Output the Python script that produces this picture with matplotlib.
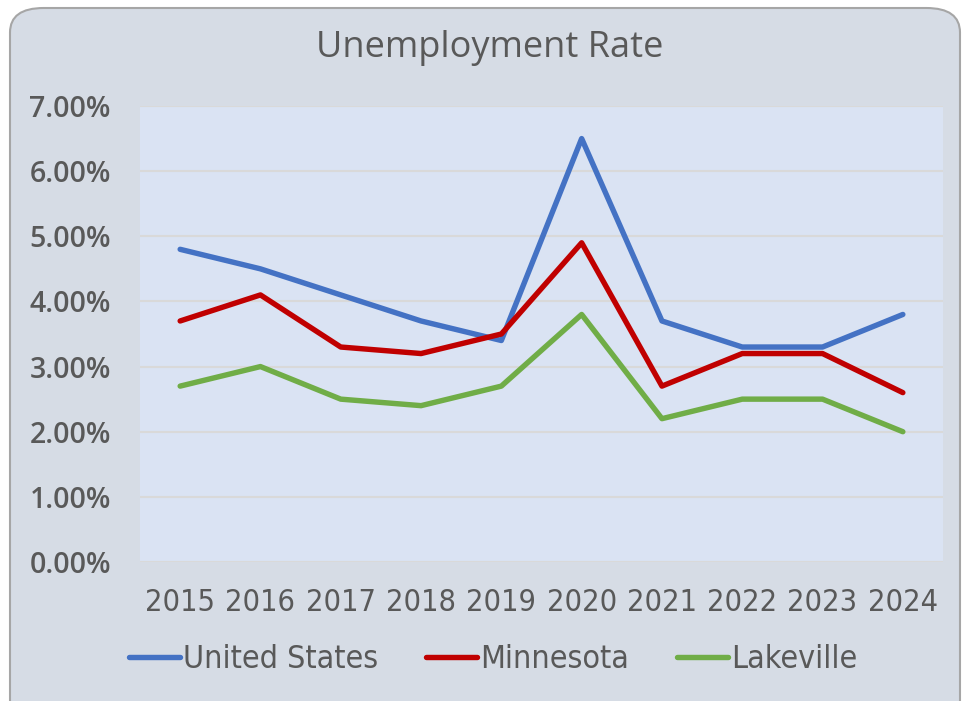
import matplotlib
matplotlib.use("Agg")
import matplotlib.pyplot as plt
from matplotlib.patches import FancyBboxPatch
from matplotlib.ticker import FuncFormatter

# data
years = ["2015", "2016", "2017", "2018", "2019", "2020", "2021", "2022", "2023", "2024"]
us_rate = [4.8, 4.5, 4.1, 3.7, 3.4, 6.5, 3.7, 3.3, 3.3, 3.8]
mn_rate = [3.7, 4.1, 3.3, 3.2, 3.5, 4.9, 2.7, 3.2, 3.2, 2.6]
lakeville_rate = [2.7, 3.0, 2.5, 2.4, 2.7, 3.8, 2.2, 2.5, 2.5, 2.0]

text_col = "#595959"

fig = plt.figure(figsize=(9.63, 7.01), dpi=100)
fig.patch.set_facecolor("white")

# rounded chart frame behind everything
frame = FancyBboxPatch((10 / 963, -0.05), 950 / 963, 1 - 8 / 701 + 0.05,
                       boxstyle="round,pad=0,rounding_size=0.035",
                       transform=fig.transFigure, facecolor="#d6dce5",
                       edgecolor="#a6a6a6", linewidth=1.5, zorder=-10)
fig.patches.append(frame)

ax = fig.add_axes([140 / 963, 1 - 562 / 701, 803 / 963, 456 / 701], zorder=5)
ax.set_facecolor("#dae3f3")

x = range(len(years))
ax.plot(x, us_rate, color="#4472c4", lw=3.9, label="United States", solid_capstyle="round")
ax.plot(x, mn_rate, color="#c00000", lw=3.9, label="Minnesota", solid_capstyle="round")
ax.plot(x, lakeville_rate, color="#70ad47", lw=3.9, label="Lakeville", solid_capstyle="round")

ax.set_xlim(-0.5, len(years) - 0.5)
ax.set_ylim(0, 7)
ax.set_yticks(range(0, 8))
ax.yaxis.set_major_formatter(FuncFormatter(lambda v, p: f"{v:.2f}%"))
ax.set_xticks(list(x))
ax.set_xticklabels(years)
ax.grid(axis="y", color="#d9d9d9", lw=1.5)
ax.set_axisbelow(True)
for s in ax.spines.values():
    s.set_visible(False)
ax.tick_params(length=0)
ax.tick_params(axis="y", labelsize=20.5, labelcolor=text_col, pad=21)
ax.tick_params(axis="x", labelsize=22, labelcolor=text_col, pad=19)
for lab in ax.get_yticklabels():
    lab.set_family("Open Sans")
    lab.set_weight("semibold")
for lab in ax.get_xticklabels():
    lab.set_family("DejaVu Sans")
    lab.set_stretch("condensed")

fig.text(0.508, 1 - 48 / 701, "Unemployment Rate", ha="center", va="center",
         fontsize=26, color=text_col, family="Open Sans")

leg = fig.legend(loc="center", bbox_to_anchor=(0.512, 1 - 660 / 701), ncol=3,
                 frameon=False, handlelength=1.6, handletextpad=0.1, columnspacing=1.5,
                 prop={"family": "DejaVu Sans", "stretch": "condensed", "size": 23})
for t in leg.get_texts():
    t.set_color(text_col)

fig.savefig("out.png", dpi=100)
